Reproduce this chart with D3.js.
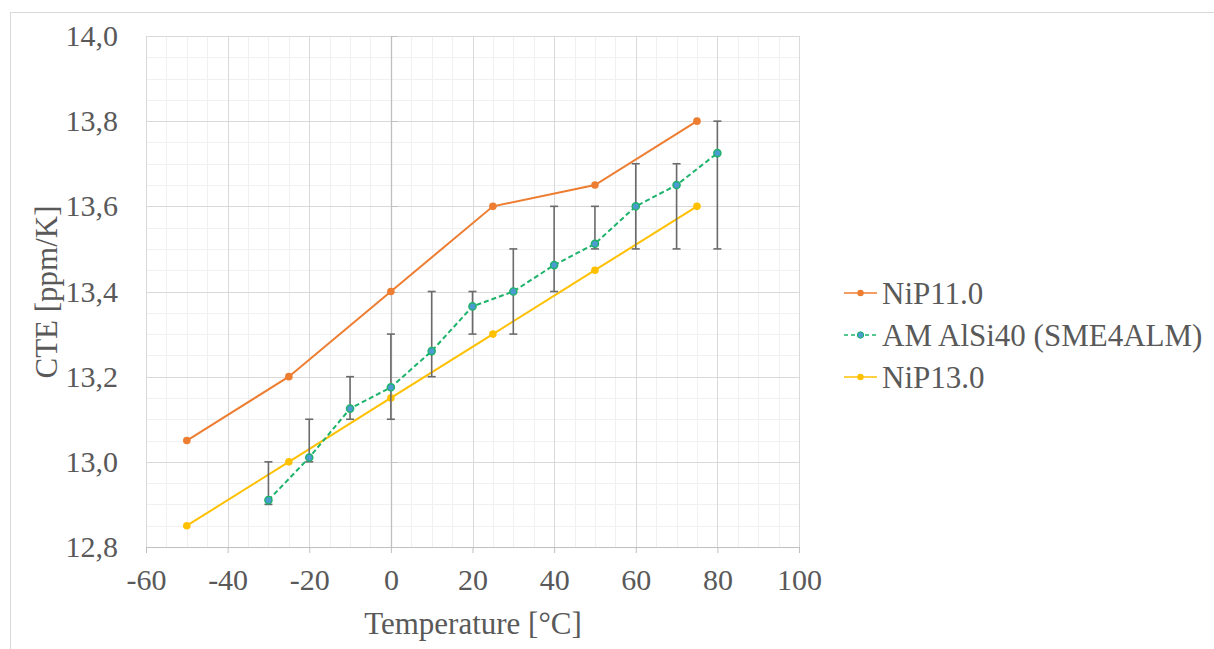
<!DOCTYPE html>
<html><head><meta charset="utf-8">
<script src="https://cdn.jsdelivr.net/npm/d3@7"></script>
<style>body{margin:0;background:#fff}svg{display:block}
svg text{font-family:"Liberation Serif","DejaVu Serif",serif !important;fill:#595959}</style>
</head><body>
<svg id="c" width="1214" height="649"></svg>
<script>
const temps11 = [-50, -25, 0, 25, 50, 75];
const nip11 = [13.05, 13.2, 13.4, 13.6, 13.65, 13.8];
const temps13 = [-50, -25, 0, 25, 50, 75];
const nip13 = [12.85, 13.0, 13.15, 13.3, 13.45, 13.6];
const tempsAM = [-30, -20, -10, 0, 10, 20, 30, 40, 50, 60, 70, 80];
const amAlSi = [12.91, 13.01, 13.125, 13.175, 13.26, 13.365, 13.4, 13.462, 13.512, 13.6, 13.65, 13.725];
const amLow  = [12.9, 13.0, 13.1, 13.1, 13.2, 13.3, 13.3, 13.4, 13.5, 13.5, 13.5, 13.5];
const amHigh = [13.0, 13.1, 13.2, 13.3, 13.4, 13.4, 13.5, 13.6, 13.6, 13.7, 13.7, 13.8];
const xTicks = [-60, -40, -20, 0, 20, 40, 60, 80, 100];
const yTicks = [12.8, 13.0, 13.2, 13.4, 13.6, 13.8, 14.0];
const seriesNames = ["NiP11.0", "AM AlSi40 (SME4ALM)", "NiP13.0"];

const svg = d3.select("#c");
const L = 146, R = 799, T = 36, B = 547;
const x = d3.scaleLinear().domain([-60, 100]).range([L, R]);
const y = d3.scaleLinear().domain([12.8, 14.0]).range([B, T]);

// outer frame (top and left)
svg.append("line").attr("x1",10).attr("x2",1214).attr("y1",12.5).attr("y2",12.5).attr("stroke","#d9d9d9");
svg.append("line").attr("x1",10.5).attr("x2",10.5).attr("y1",12).attr("y2",649).attr("stroke","#d9d9d9");

const g = svg.append("g");
const xMinor = d3.range(-60, 100.01, 5);
const yMinor = d3.range(0, 25).map(i => 12.8 + i*0.05);
g.selectAll(".xm").data(xMinor).join("line")
  .attr("x1", d=>Math.round(x(d))+0.5).attr("x2", d=>Math.round(x(d))+0.5)
  .attr("y1", T).attr("y2", B).attr("stroke", "#f0f0f0");
g.selectAll(".ym").data(yMinor).join("line")
  .attr("y1", d=>Math.round(y(d))+0.5).attr("y2", d=>Math.round(y(d))+0.5)
  .attr("x1", L).attr("x2", R).attr("stroke", "#f0f0f0");
g.selectAll(".xM").data(xTicks).join("line")
  .attr("x1", d=>Math.round(x(d))+0.5).attr("x2", d=>Math.round(x(d))+0.5)
  .attr("y1", T).attr("y2", B).attr("stroke", "#d9d9d9");
g.selectAll(".yM").data(yTicks).join("line")
  .attr("y1", d=>Math.round(y(d))+0.5).attr("y2", d=>Math.round(y(d))+0.5)
  .attr("x1", L).attr("x2", R).attr("stroke", "#d9d9d9");

const x0 = Math.round(x(0))+0.5;
svg.append("line").attr("x1",x0).attr("x2",x0).attr("y1",T).attr("y2",B).attr("stroke","#bfbfbf").attr("stroke-width",1.3);
svg.selectAll(".yt").data(yTicks).join("line")
  .attr("x1", x0).attr("x2", x0+6).attr("y1", d=>Math.round(y(d))+0.5).attr("y2", d=>Math.round(y(d))+0.5)
  .attr("stroke","#bfbfbf");

const xAxis = d3.axisBottom(x).tickValues(xTicks).tickSize(6).tickPadding(10).tickFormat(d => d < 0 ? "-" + Math.abs(d) : String(d));
const xa = svg.append("g").attr("transform", `translate(0,${B})`).call(xAxis);
xa.select(".domain").attr("stroke","#bfbfbf");
xa.selectAll(".tick line").attr("stroke","#bfbfbf");
xa.selectAll(".tick text").style("font-size","30px").attr("dy","0.9em");

const yAxis = d3.axisLeft(y).tickValues(yTicks).tickSize(0).tickPadding(28).tickFormat(d => d3.format(".1f")(d).replace(".", ","));
const ya = svg.append("g").attr("transform", `translate(${L},0)`).call(yAxis);
ya.select(".domain").remove();
ya.selectAll(".tick text").style("font-size","30px");

svg.append("text").attr("x", 473).attr("y", 634).attr("text-anchor","middle")
  .style("font-size","31px").text("Temperature [°C]");
svg.append("text").attr("transform","translate(57,292) rotate(-90)").attr("text-anchor","middle")
  .style("font-size","31px").text("CTE [ppm/K]");

const line = d3.line().x(d=>x(d[0])).y(d=>y(d[1]));
const cOrange = "#ED7D31", cGreen = "#1DB36A", cYellow = "#FFC000", cBlue = "#4C9BD0";

const d11 = temps11.map((t,i)=>[t, nip11[i]]);
svg.append("path").attr("d", line(d11)).attr("fill","none").attr("stroke",cOrange).attr("stroke-width",2);
svg.selectAll(".p11").data(d11).join("circle").attr("cx",d=>x(d[0])).attr("cy",d=>y(d[1])).attr("r",3.8).attr("fill",cOrange);

const d13 = temps13.map((t,i)=>[t, nip13[i]]);
svg.append("path").attr("d", line(d13)).attr("fill","none").attr("stroke",cYellow).attr("stroke-width",2);
svg.selectAll(".p13").data(d13).join("circle").attr("cx",d=>x(d[0])).attr("cy",d=>y(d[1])).attr("r",3.8).attr("fill",cYellow);

const dAM = tempsAM.map((t,i)=>({t, v:amAlSi[i], lo:amLow[i], hi:amHigh[i]}));
const eb = svg.append("g").attr("stroke","#6b6b6b").attr("stroke-width",1.6);
dAM.forEach(d=>{
  eb.append("line").attr("x1",x(d.t)).attr("x2",x(d.t)).attr("y1",y(d.lo)).attr("y2",y(d.hi));
  eb.append("line").attr("x1",x(d.t)-4).attr("x2",x(d.t)+4).attr("y1",y(d.lo)).attr("y2",y(d.lo));
  eb.append("line").attr("x1",x(d.t)-4).attr("x2",x(d.t)+4).attr("y1",y(d.hi)).attr("y2",y(d.hi));
});
svg.append("path").attr("d", line(dAM.map(d=>[d.t,d.v]))).attr("fill","none").attr("stroke",cGreen)
  .attr("stroke-width",2).attr("stroke-dasharray","5,3");
svg.selectAll(".pam").data(dAM).join("circle").attr("cx",d=>x(d.t)).attr("cy",d=>y(d.v)).attr("r",3.6)
  .attr("fill",cBlue).attr("stroke",cGreen).attr("stroke-width",1.4);

const leg = [
  {name:seriesNames[0], c:cOrange, dash:null, fill:cOrange},
  {name:seriesNames[1], c:cGreen, dash:"4,3", fill:cBlue},
  {name:seriesNames[2], c:cYellow, dash:null, fill:cYellow}
];
leg.forEach((d,i)=>{
  const yy = 293 + i*42;
  svg.append("line").attr("x1",844).attr("x2",877).attr("y1",yy).attr("y2",yy).attr("stroke",d.c).attr("stroke-width",1.5)
    .attr("stroke-dasharray", d.dash);
  svg.append("circle").attr("cx",860.5).attr("cy",yy).attr("r",3.2).attr("fill",d.fill).attr("stroke", i===1?cGreen:"none");
  svg.append("text").attr("x",882).attr("y",yy).attr("dy","0.35em").style("font-size","31px").text(d.name);
});
</script>
</body></html>
